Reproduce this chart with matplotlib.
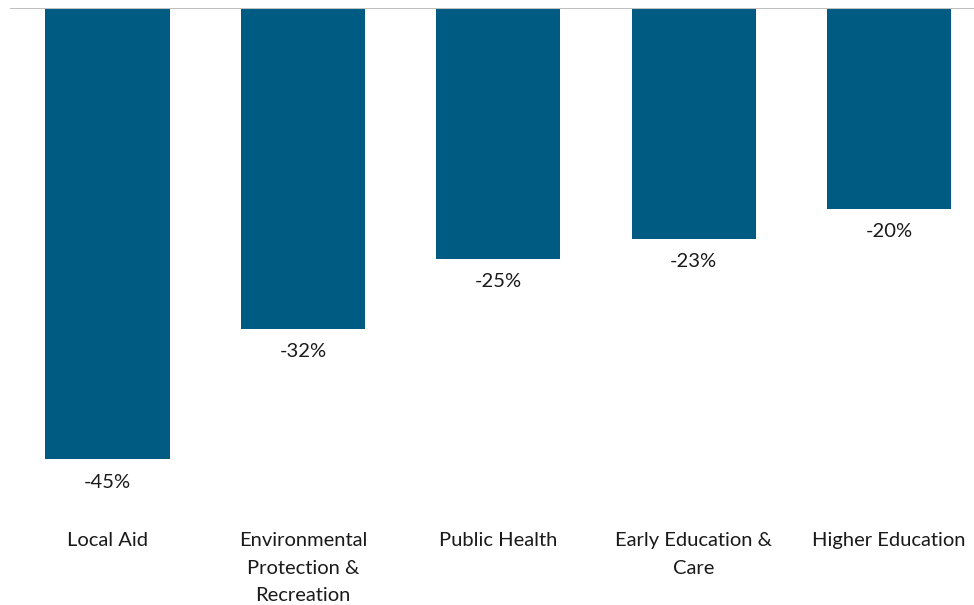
import matplotlib
matplotlib.use("Agg")
import matplotlib.pyplot as plt

categories = ["Local Aid", "Environmental\nProtection &\nRecreation", "Public Health",
              "Early Education &\nCare", "Higher Education"]
values = [-45, -32, -25, -23, -20]
value_labels = ["-45%", "-32%", "-25%", "-23%", "-20%"]

plt.rcParams['font.family'] = ['Lato', 'DejaVu Sans']

fig = plt.figure(figsize=(9.74, 6.05), dpi=100)
ax = fig.add_axes([9.8/974, (605-509.3)/605, 977/974, 501/605])
x = list(range(len(categories)))
ax.bar(x, values, width=0.635, color="#005B82", zorder=2)
ax.axhline(0, color="#BFBFBF", lw=1.5, zorder=3)
ax.set_xlim(-0.5, 4.5)
ax.set_ylim(-50, 0)
for xi, v, lab in zip(x, values, value_labels):
    ax.annotate(lab, (xi, v), xytext=(0, -23), textcoords="offset pixels",
                ha="center", va="center", fontsize=14.5, color="#1a1a1a")
ax.set_xticks(x)
ax.set_xticklabels(categories, fontsize=14.5, color="#1a1a1a", linespacing=1.76)
ax.tick_params(axis="x", length=0, pad=16.5)
ax.set_yticks([])
for s in ax.spines.values():
    s.set_visible(False)
fig.savefig("out.png", dpi=100)
